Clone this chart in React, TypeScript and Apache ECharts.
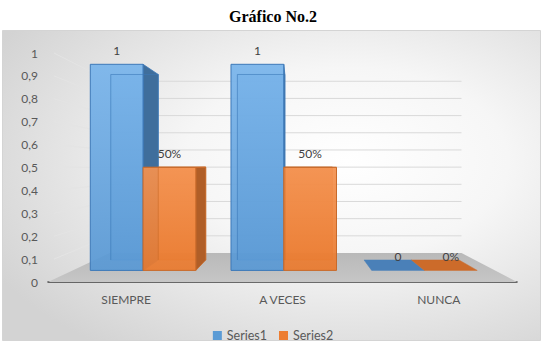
import React, { useEffect, useRef } from "react";
import * as echarts from "echarts";

const categories = ["SIEMPRE", "A VECES", "NUNCA"];
const series1 = [1, 1, 0];
const series2 = [0.5, 0.5, 0];
const yTicks = [0, 0.1, 0.2, 0.3, 0.4, 0.5, 0.6, 0.7, 0.8, 0.9, 1];
const seriesNames = ["Series1", "Series2"];

const FONT = "Lato";
// perspective settings (vanishing point in pixels and depth factors)
const VX = 295;
const VY = 166;
const BAR_F1 = 0.1;
const BAR_F2 = 0.19;
const WALL_F = 0.25;
const BAR_FRAC = 0.375;

const P = (x: number, y: number, f: number) => [x + f * (VX - x), y + f * (VY - y)];

type Pal = { top: string; bottom: string; side: string; topFace: string; stroke: string };
const blue: Pal = { top: "rgba(120,180,235,0.92)", bottom: "rgba(88,152,212,0.92)", side: "#3f6e9c", topFace: "#4a80b8", stroke: "#3c78b8" };
const orange: Pal = { top: "rgba(244,146,80,0.93)", bottom: "rgba(234,122,46,0.93)", side: "#b05e27", topFace: "#cc6b2a", stroke: "#c86a2a" };

function makeBarRender(slot: number, pal: Pal, fmt: (v: number) => string) {
  return (params: any, api: any) => {
    const ci = api.value(0);
    const v = api.value(1);
    const t = api.coord([ci, v]);
    const b = api.coord([ci, 0]);
    const bw = api.size([1, 0])[0];
    const w = bw * BAR_FRAC;
    const x0 = t[0] - w + slot * w;
    const x1 = x0 + w;
    const yT = t[1];
    const yB = b[1];
    const F = [P(x0, yT, BAR_F1), P(x1, yT, BAR_F1), P(x1, yB, BAR_F1), P(x0, yB, BAR_F1)];
    const B = [P(x0, yT, BAR_F2), P(x1, yT, BAR_F2), P(x1, yB, BAR_F2), P(x0, yB, BAR_F2)];
    const children: any[] = [];
    const h = Math.abs(yB - yT);
    if (h > 0.5) {
      children.push({
        type: "polygon",
        shape: { points: B },
        style: { fill: pal.bottom, stroke: pal.stroke, lineWidth: 1, opacity: 0.6 },
      });
      if (x1 < VX) {
        children.push({ type: "polygon", shape: { points: [F[1], B[1], B[2], F[2]] }, style: { fill: pal.side, stroke: pal.stroke, lineWidth: 0.8 } });
      }
      if (x0 > VX) {
        children.push({ type: "polygon", shape: { points: [F[0], B[0], B[3], F[3]] }, style: { fill: pal.side, stroke: pal.stroke, lineWidth: 0.8 } });
      }
    }
    if (yT > VY) {
      children.push({ type: "polygon", shape: { points: [F[0], F[1], B[1], B[0]] }, style: { fill: pal.topFace, stroke: pal.topFace, lineWidth: 0.5 } });
    }
    if (h > 0.5) {
      children.push({
        type: "polygon",
        shape: { points: F },
        style: {
          fill: new echarts.graphic.LinearGradient(0, 0, 0, 1, [
            { offset: 0, color: pal.top },
            { offset: 1, color: pal.bottom },
          ]),
          stroke: pal.stroke,
          lineWidth: 1,
        },
      });
      children.push({
        type: "polyline",
        shape: { points: [B[3], B[0], B[1]] },
        style: { fill: "none", stroke: pal.stroke, lineWidth: 0.8, opacity: 0.7 },
      });
    }
    children.push({
      type: "text",
      x: (F[0][0] + F[1][0]) / 2,
      y: F[0][1] - 14,
      style: {
        text: fmt(v),
        align: "center",
        verticalAlign: "middle",
        textAlign: "center",
        textVerticalAlign: "middle",
        fill: "#404040",
        fontSize: 12,
        fontFamily: FONT,
      },
    });
    return { type: "group", children };
  };
}

function wallRender(params: any, api: any) {
  const v = api.value(1);
  const p = api.coord([0, v]);
  const bw = api.size([1, 0])[0];
  const left = p[0] - bw / 2;
  const right = api.coord([categories.length - 1, v])[0] + bw / 2;
  const y = p[1];
  const children: any[] = [];
  if (v === 0) {
    children.push({
      type: "polygon",
      shape: { points: [P(left, y, 0), P(right, y, 0), P(right, y, WALL_F), P(left, y, WALL_F)] },
      style: {
        fill: new echarts.graphic.LinearGradient(0, 0, 0, 1, [
          { offset: 0, color: "#b9b9b9" },
          { offset: 1, color: "#c6c6c6" },
        ]),
      },
    });
  } else {
    const s = P(left + 6, y, 0);
    const a = P(left, y, WALL_F);
    const c = P(right, y, WALL_F);
    children.push({
      type: "line",
      shape: { x1: s[0], y1: s[1], x2: a[0], y2: a[1] },
      style: { stroke: "#e4e4e4", lineWidth: 1 },
    });
    children.push({
      type: "line",
      shape: { x1: a[0], y1: a[1], x2: c[0], y2: c[1] },
      style: { stroke: "#d9d9d9", lineWidth: 1 },
    });
  }
  return { type: "group", children };
}

export default function App() {
  const ref = useRef<HTMLDivElement>(null);
  useEffect(() => {
    if (!ref.current) return;
    const chart = echarts.init(ref.current, null, { renderer: "svg" });
    const fmt1 = (v: number) => String(v);
    const fmt2 = (v: number) => `${Math.round(v * 100)}%`;
    chart.setOption({
      animation: false,
      backgroundColor: "#ffffff",
      title: {
        text: "Gráfico No.2",
        left: "center",
        top: 3,
        textStyle: { fontFamily: "serif", fontWeight: "bold", fontSize: 16, color: "#000000" },
      },
      graphic: [
        {
          type: "rect",
          z: -10,
          silent: true,
          shape: { x: 2.5, y: 30.5, width: 538, height: 310 },
          style: {
            fill: new echarts.graphic.RadialGradient(0.64, 0.42, 0.75, [
              { offset: 0, color: "#ffffff" },
              { offset: 0.4, color: "#f6f6f6" },
              { offset: 1, color: "#d3d3d3" },
            ]),
            stroke: "#d4d4d4",
            lineWidth: 1,
          },
        },
      ],
      legend: {
        data: seriesNames,
        top: 324,
        left: "center",
        icon: "rect",
        itemWidth: 9,
        itemHeight: 9,
        itemGap: 12,
        textStyle: { color: "#595959", fontSize: 12.5, fontFamily: FONT },
      },
      grid: { left: 48, right: 29, top: 53, bottom: 71 },
      xAxis: {
        type: "category",
        data: categories,
        axisLine: { lineStyle: { color: "#3f3f3f", width: 1.5 } },
        axisTick: { show: false },
        axisLabel: { color: "#595959", fontSize: 12, fontFamily: FONT, margin: 11 },
        splitLine: { show: false },
      },
      yAxis: {
        type: "value",
        min: 0,
        max: 1,
        interval: 0.1,
        axisLine: { show: false },
        axisTick: { show: false },
        splitLine: { show: false },
        axisLabel: {
          color: "#595959",
          fontSize: 12,
          fontFamily: FONT,
          margin: 10,
          formatter: (v: number) => String(+v.toFixed(1)).replace(".", ","),
        },
      },
      series: [
        {
          type: "custom",
          name: "wall",
          z: 1,
          silent: true,
          renderItem: wallRender,
          data: yTicks.map((v) => [0, v]),
          encode: { x: 0, y: 1 },
        },
        {
          type: "custom",
          name: seriesNames[0],
          z: 3,
          itemStyle: { color: "#5b9bd5" },
          renderItem: makeBarRender(0, blue, fmt1),
          data: series1.map((v, i) => [i, v]),
          encode: { x: 0, y: 1 },
        },
        {
          type: "custom",
          name: seriesNames[1],
          z: 4,
          itemStyle: { color: "#ed7d31" },
          renderItem: makeBarRender(1, orange, fmt2),
          data: series2.map((v, i) => [i, v]),
          encode: { x: 0, y: 1 },
        },
      ],
    });
    return () => chart.dispose();
  }, []);
  return <div ref={ref} style={{ position: "fixed", left: 0, top: 0, width: 546, height: 353 }} />;
}
